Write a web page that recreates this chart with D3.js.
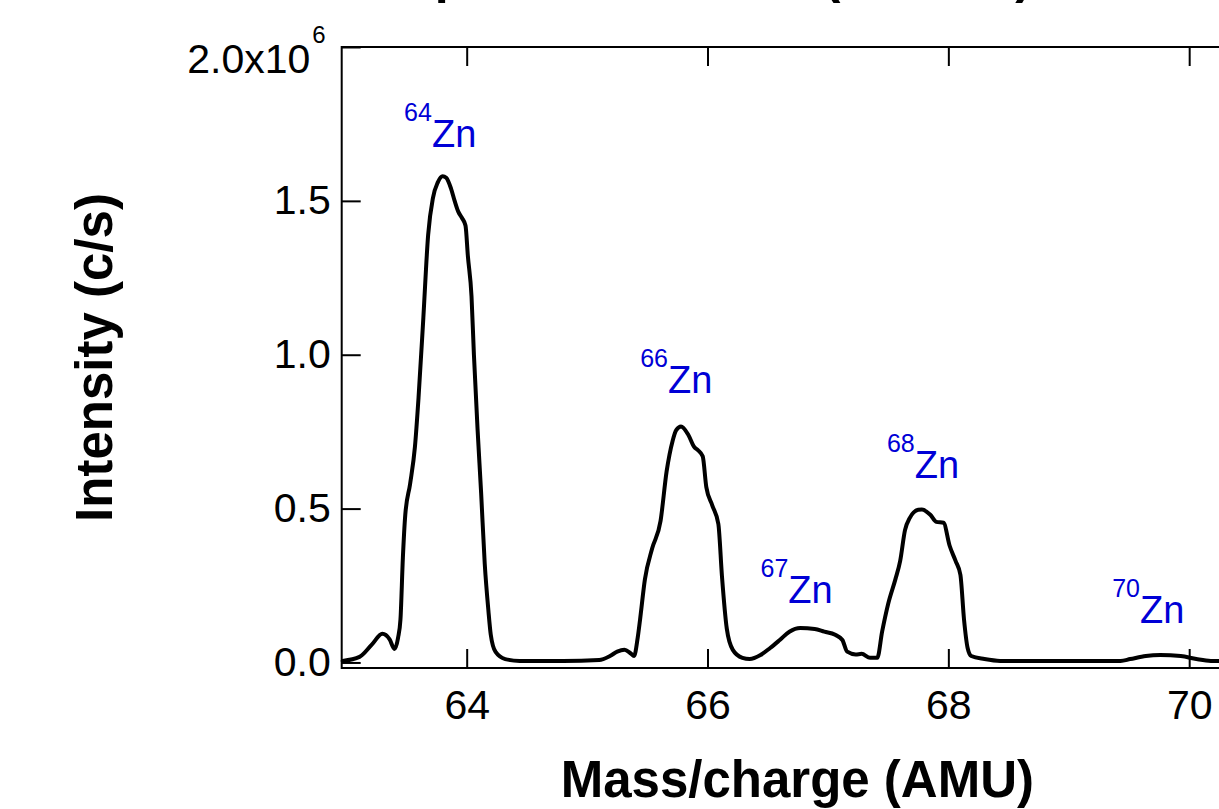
<!DOCTYPE html>
<html>
<head>
	<meta charset="utf-8">
	<title>Zn mass spectrum</title>
	<script src="https://cdn.jsdelivr.net/npm/d3@7"></script>
	<style type="text/css">
		body {
			margin: 0;
			background: white;
			overflow: hidden;
		}
		text {
			font-family: "Liberation Sans", Arial, sans-serif;
		}
		.frame {
			fill: none;
			stroke: black;
			stroke-width: 2px;
		}
		.tick line {
			stroke: black;
			stroke-width: 2px;
		}
		.spectrum {
			fill: none;
			stroke: black;
			stroke-width: 4px;
			stroke-linejoin: round;
			stroke-linecap: round;
		}
	</style>
</head>
<body>
<div id="chart"></div>

<script type="text/javascript">

// mass/charge (AMU) and intensity (c/s)
var mass = [62.97, 63.11, 63.21, 63.30, 63.36, 63.40, 63.43, 63.45, 63.47, 63.49,
	63.53, 63.57, 63.60, 63.64, 63.68, 63.72, 63.76, 63.80, 63.83, 63.87,
	63.90, 63.93, 63.96, 63.99, 64.01, 64.04, 64.06, 64.09, 64.12, 64.15,
	64.18, 64.20, 64.24, 64.32, 64.44, 64.80, 65.10, 65.19, 65.25, 65.31,
	65.36, 65.39, 65.42, 65.44, 65.48, 65.54, 65.61, 65.66, 65.71, 65.74,
	65.78, 65.84, 65.89, 65.92, 65.96, 65.99, 66.04, 66.09, 66.12, 66.16,
	66.21, 66.29, 66.35, 66.44, 66.52, 66.60, 66.68, 66.77, 66.89, 66.97,
	67.06, 67.12, 67.16, 67.23, 67.28, 67.35, 67.41, 67.45, 67.50, 67.56,
	67.60, 67.64, 67.68, 67.75, 67.78, 67.85, 67.90, 67.96, 68.01, 68.06,
	68.10, 68.13, 68.16, 68.19, 68.30, 68.43, 69.43, 69.51, 69.64, 69.76,
	69.93, 70.06, 70.18, 70.53];

var intensity = [0.005e6, 0.018e6, 0.057e6, 0.093e6, 0.075e6, 0.044e6, 0.08e6, 0.14e6, 0.34e6, 0.48e6,
	0.58e6, 0.70e6, 0.86e6, 1.12e6, 1.39e6, 1.51e6, 1.56e6, 1.58e6, 1.575e6, 1.54e6,
	1.50e6, 1.465e6, 1.445e6, 1.42e6, 1.32e6, 1.19e6, 1.00e6, 0.76e6, 0.55e6, 0.32e6,
	0.17e6, 0.09e6, 0.034e6, 0.011e6, 0.005e6, 0.005e6, 0.008e6, 0.021e6, 0.035e6, 0.041e6,
	0.03e6, 0.021e6, 0.08e6, 0.14e6, 0.27e6, 0.37e6, 0.46e6, 0.62e6, 0.72e6, 0.755e6,
	0.767e6, 0.74e6, 0.70e6, 0.69e6, 0.67e6, 0.57e6, 0.51e6, 0.45e6, 0.28e6, 0.11e6,
	0.041e6, 0.015e6, 0.011e6, 0.024e6, 0.047e6, 0.073e6, 0.10e6, 0.112e6, 0.109e6, 0.10e6,
	0.09e6, 0.073e6, 0.035e6, 0.026e6, 0.028e6, 0.015e6, 0.015e6, 0.10e6, 0.19e6, 0.27e6,
	0.33e6, 0.43e6, 0.47e6, 0.496e6, 0.497e6, 0.48e6, 0.457e6, 0.454e6, 0.38e6, 0.33e6,
	0.285e6, 0.14e6, 0.047e6, 0.021e6, 0.011e6, 0.005e6, 0.005e6, 0.011e6, 0.021e6, 0.024e6,
	0.021e6, 0.011e6, 0.005e6, 0.004e6];

// isotope labels, placed in data coordinates (centre, baseline)
var isotopes = ["64", "66", "67", "68", "70"];
var labelMass = [63.78, 65.74, 66.74, 67.79, 69.66];
var labelIntensity = [1.675e6, 0.877e6, 0.194e6, 0.601e6, 0.129e6];

var xTicks = [64, 66, 68, 70];
var yTicks = [0, 0.5e6, 1.0e6, 1.5e6, 2.0e6];
var yTickLabels = ["0.0", "0.5", "1.0", "1.5", "2.0x10"];

var width = 1219,
	height = 809;

// note: "top" is taken by window.top, so plot edges get their own names
var plotLeft = 341.7, plotRight = 1253, plotTop = 47, plotBottom = 668;

var x = d3.scaleLinear()
	.domain([62.962, 70.53])
	.range([plotLeft, plotRight]);

var y = d3.scaleLinear()
	.domain([-0.018e6, 2.0e6])
	.range([plotBottom, plotTop]);

var svg = d3.select("#chart").append("svg")
	.attr("width", width)
	.attr("height", height);

// title, mostly above the visible area (only descenders show)
svg.append("text")
	.attr("x", 1032)
	.attr("y", -7)
	.attr("text-anchor", "end")
	.style("font-size", "50px")
	.style("font-weight", "bold")
	.text("Mass Spectrum of Zinc (ICP-MS)");

// axes, ticks pointing inward
var tickLen = 19;

svg.append("g")
	.attr("transform", "translate(0," + plotBottom + ")")
	.call(d3.axisBottom(x).tickValues(xTicks).tickSize(-tickLen).tickPadding(22).tickFormat(d3.format("d")))
	.call(function(g) {
		g.select(".domain").remove();
		g.selectAll("text").style("font-size", "41px").attr("fill", "black");
	});

svg.append("g")
	.attr("transform", "translate(0," + plotTop + ")")
	.call(d3.axisTop(x).tickValues(xTicks).tickSize(-tickLen).tickFormat(""))
	.call(function(g) { g.select(".domain").remove(); });

svg.append("g")
	.attr("transform", "translate(" + plotRight + ",0)")
	.call(d3.axisRight(y).tickValues(yTicks).tickSize(-tickLen).tickFormat(""))
	.call(function(g) { g.select(".domain").remove(); });

var yAxis = svg.append("g")
	.attr("transform", "translate(" + plotLeft + ",0)")
	.call(d3.axisLeft(y).tickValues(yTicks).tickSize(-tickLen).tickPadding(11)
		.tickFormat(function(d, i) { return yTickLabels[i]; }))
	.call(function(g) {
		g.select(".domain").remove();
		g.selectAll("text").style("font-size", "41px").attr("fill", "black");
	});

// top label sits lower and carries the exponent
yAxis.selectAll(".tick").filter(function(d) { return d === 2.0e6; })
	.select("text")
	.attr("x", -16)
	.attr("transform", "translate(0,12)")
	.append("tspan")
	.attr("dy", -30)
	.attr("dx", 2)
	.style("font-size", "24px")
	.text("6");

svg.append("rect")
	.attr("class", "frame")
	.attr("x", plotLeft)
	.attr("y", plotTop)
	.attr("width", plotRight - plotLeft)
	.attr("height", plotBottom - plotTop);

// spectrum trace
var line = d3.line()
	.x(function(d) { return x(d[0]); })
	.y(function(d) { return y(d[1]); })
	.curve(d3.curveMonotoneX);

var points = mass.map(function(m, i) { return [m, intensity[i]]; });

svg.append("path")
	.datum(points)
	.attr("class", "spectrum")
	.attr("d", line);

// isotope labels
var labels = svg.selectAll(".iso")
	.data(isotopes).enter()
	.append("text")
	.attr("class", "iso")
	.attr("x", function(d, i) { return x(labelMass[i]); })
	.attr("y", function(d, i) { return y(labelIntensity[i]); })
	.attr("text-anchor", "middle")
	.attr("fill", "#0000d6");

labels.append("tspan")
	.attr("dy", -26)
	.style("font-size", "25px")
	.text(function(d) { return d; });

labels.append("tspan")
	.attr("dy", 26)
	.style("font-size", "38px")
	.text("Zn");

// axis titles
svg.append("text")
	.attr("x", (plotLeft + plotRight) / 2)
	.attr("y", 797)
	.attr("text-anchor", "middle")
	.style("font-size", "51px")
	.style("font-weight", "bold")
	.text("Mass/charge (AMU)");

svg.append("text")
	.attr("transform", "translate(112," + ((plotTop + plotBottom) / 2) + ") rotate(-90)")
	.attr("text-anchor", "middle")
	.style("font-size", "51px")
	.style("font-weight", "bold")
	.text("Intensity (c/s)");

</script>
</body>
</html>
